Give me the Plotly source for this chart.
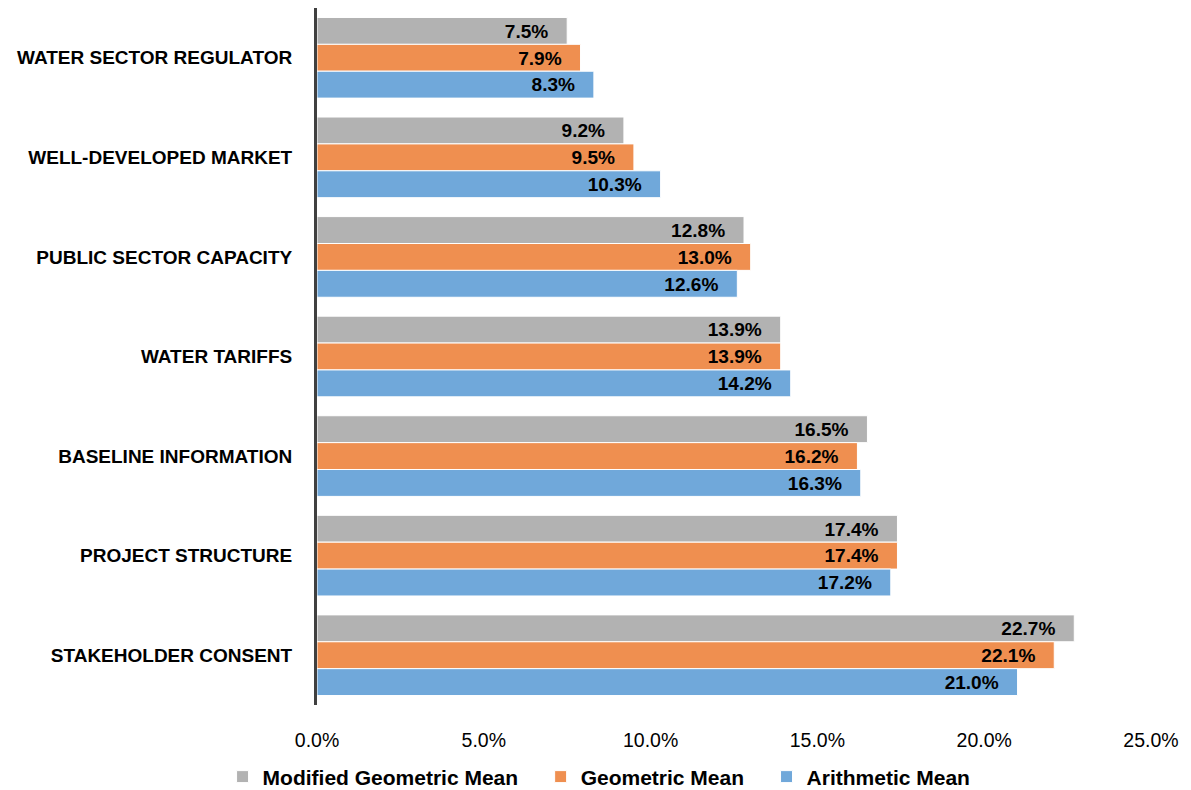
import plotly.graph_objects as go

categories = ["WATER SECTOR REGULATOR", "WELL-DEVELOPED MARKET", "PUBLIC SECTOR CAPACITY",
              "WATER TARIFFS", "BASELINE INFORMATION", "PROJECT STRUCTURE", "STAKEHOLDER CONSENT"]
modified_geo = [0.075, 0.092, 0.128, 0.139, 0.165, 0.174, 0.227]
geometric = [0.079, 0.095, 0.130, 0.139, 0.162, 0.174, 0.221]
arithmetic = [0.083, 0.103, 0.126, 0.142, 0.163, 0.172, 0.210]
x_ticks = [0, 0.05, 0.10, 0.15, 0.20, 0.25]

FONT = "Liberation Sans, Arial"

series = [
    ("Modified Geometric Mean", modified_geo, "#B2B2B2", "\u00a0\u00a0\u00a0"),
    ("Geometric Mean", geometric, "#EF8F50", "\u00a0\u00a0\u00a0"),
    ("Arithmetic Mean", arithmetic, "#70A8DA", ""),
]

fig = go.Figure()
for name, vals, color, pad in series:
    fig.add_trace(go.Bar(
        y=categories, x=vals, name="<b>" + name + "</b>" + pad, orientation="h",
        marker=dict(color=color, line=dict(color="white", width=1)),
        texttemplate="<b>%{x:.1%}</b>\u00a0\u00a0\u00a0", textposition="inside",
        insidetextanchor="end", textangle=0,
        textfont=dict(family=FONT, size=21, color="black"),
        cliponaxis=False,
    ))

fig.update_layout(
    barmode="group", bargap=0.19, bargroupgap=0,
    width=1191, height=790,
    margin=dict(l=317, r=40, t=8, b=85, autoexpand=False),
    plot_bgcolor="white", paper_bgcolor="white",
    font=dict(family=FONT, size=18, color="black"),
    uniformtext=dict(mode=False),
    legend=dict(orientation="h", x=0.503, xanchor="center", xref="container",
                y=0.0165, yanchor="middle", yref="container",
                bgcolor="rgba(0,0,0,0)",
                font=dict(family=FONT, size=21, color="black"),
                traceorder="normal", itemwidth=30),
    showlegend=True,
)
fig.update_xaxes(range=[0, 0.25], tickvals=x_ticks, tickformat=".1%",
                 showgrid=False, zeroline=False, showline=False,
                 tickfont=dict(family=FONT, size=19.5, color="black"),
                 ticks="", ticklabelstandoff=21)
fig.update_yaxes(autorange="reversed", showgrid=False, zeroline=False,
                 showline=True, linecolor="#404040", linewidth=3,
                 ticks="", ticklabelstandoff=18,
                 tickfont=dict(family=FONT, size=19, color="black"),
                 tickprefix="<b>", ticksuffix="</b>")

fig.write_html("out.html")
